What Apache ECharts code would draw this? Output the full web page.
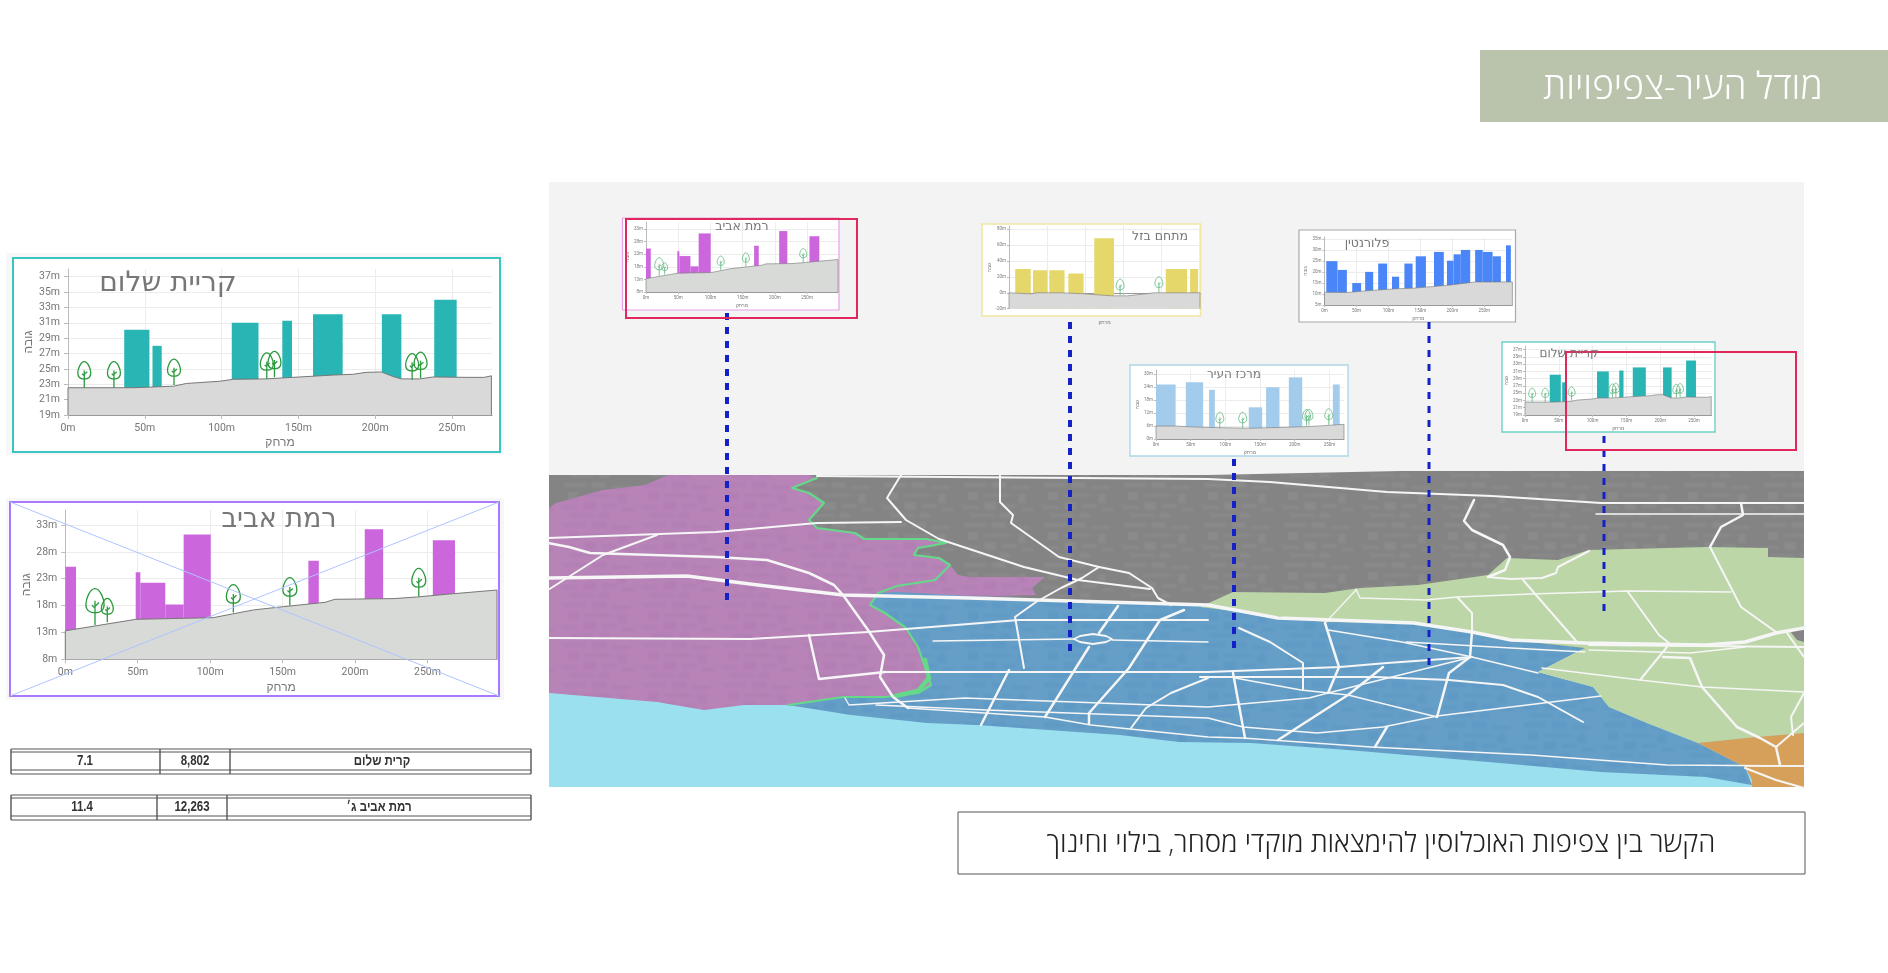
<!DOCTYPE html>
<html>
<head>
<meta charset="utf-8">
<title>מודל העיר-צפיפויות</title>
<style>
  html, body { margin: 0; padding: 0; background: #fff; }
  #main { width: 1888px; height: 973px; }
</style>
<script src="https://cdn.jsdelivr.net/npm/echarts@6/dist/echarts.min.js"></script>
</head>
<body>
<div id="main"></div>
<script>
// ---- profile charts: buildings are [from, to, top], terrain [dist, height], trees [dist, ground]
var kiryatTitle = 'קריית שלום'
var kiryatXTicks = [0, 50, 100, 150, 200, 250]
var kiryatYTicks = [19, 21, 23, 25, 27, 29, 31, 33, 35, 37]
var kiryatBuildings = [[36.6, 53, 30.1], [55, 61, 28], [106.6, 124, 31], [139.5, 145.8, 31.25], [159.5, 178.8, 32.1], [204.3, 217, 32.1], [238.4, 253, 34]]
var kiryatTerrain = [[0, 19], [0, 22.55], [42.7, 22.55], [68.7, 22.75], [77, 23.1], [99, 23.4], [107.7, 23.65], [129, 23.7], [151, 23.95], [172.7, 24.2], [185.7, 24.3], [194, 24.55], [204, 24.6], [211.7, 24], [217, 23.7], [229, 23.7], [237.7, 23.95], [259, 23.9], [271, 23.9], [275.6, 24.1], [275.6, 19]]
var kiryatTrees = [[10.6, 22.55], [29.9, 22.55], [69, 22.9], [129.4, 23.7], [134.4, 23.9], [224, 23.6], [229.5, 23.8]]

var ramatTitle = 'רמת אביב'
var ramatXTicks = [0, 50, 100, 150, 200, 250]
var ramatYTicks = [8, 13, 18, 23, 28, 33]
var ramatBuildings = [[0, 7.4, 25.25], [48.6, 51.8, 24.2], [51.8, 69, 22.27], [69, 81.7, 18.2], [81.7, 100.4, 31.26], [167.8, 175, 26.36], [206.7, 219.4, 32.2], [253.7, 269, 30.15]]
var ramatTerrain = [[0, 8], [0, 13.3], [48.6, 15.44], [102, 15.75], [130, 17.2], [150.6, 17.8], [179.3, 18.6], [186, 19.17], [226.5, 19.3], [242.6, 19.6], [263, 20.1], [298, 20.9], [298, 8]]
var ramatTrees = [[20.5, 14.4], [29, 14.9], [116, 16.7], [155, 18], [244, 19.7]]
var ramatTreeScale = [1.3, 0.85, 1, 1, 1]

var bazelTitle = 'מתחם בזל'
var bazelXTicks = [0, 50, 100, 150, 200, 250]
var bazelYTicks = [-20, 0, 20, 40, 60, 80]
var bazelBuildings = [[8.2, 28.6, 29.9], [31.6, 50.5, 28.2], [53, 73, 28.2], [78, 98, 24.4], [112, 138, 68.6], [206, 234, 29.9], [238, 248.5, 29.9]]
var bazelTerrain = [[0, -20], [0, 0], [28, -1.3], [38, 0], [69, 0], [99, -1.3], [135, -3.8], [156, -3.8], [191, 0], [251, 0], [251, -20]]
var bazelTrees = [[146, -3], [197, 0]]

var centerTitle = 'מרכז העיר'
var centerXTicks = [0, 50, 100, 150, 200, 250]
var centerYTicks = [0, 6, 12, 18, 24, 30]
var centerBuildings = [[0, 28.3, 25.3], [43, 68, 26.3], [76.5, 84.8, 22.8], [133.7, 153, 14.7], [158.7, 178, 24], [191.5, 210.8, 28.6], [255, 264.8, 25.3]]
var centerTerrain = [[0, 0], [0, 6], [28.3, 6], [68, 5.4], [135, 5], [186, 5.4], [225, 5.85], [271, 6.8], [271, 0]]
var centerTrees = [[92, 5], [125, 5], [217, 6.2], [220.5, 6.3], [249, 6.6]]

var florentinTitle = 'פלורנטין'
var florentinXTicks = [0, 50, 100, 150, 200, 250]
var florentinYTicks = [5, 10, 15, 20, 25, 30, 35]
var florentinBuildings = [[2.8, 20.3, 25], [20.3, 35, 21], [43.4, 57.3, 15], [63.6, 76.2, 20.1], [84, 98, 23.9], [105.6, 116.8, 17.9], [125, 137.8, 23.9], [142.7, 158.7, 27.2], [171.3, 186.7, 29.2], [191.6, 202, 25.2], [202, 213.3, 28.1], [213.3, 228, 30.1], [235.7, 247.6, 30.1], [247.6, 263, 29.2], [263, 276, 27.2], [284, 291.6, 32.2]]
var florentinTerrain = [[0, 5], [0, 10.85], [36, 10.7], [71, 11.6], [113, 12.4], [141, 12.7], [197, 14.1], [235.7, 15.5], [294, 15.5], [294, 5]]

// ---- table beside the profiles
var tableNames = ['קרית שלום', 'רמת אביב ג׳']
var tablePopulation = ['8,802', '12,263']
var tableDensity = ['7.1', '11.4']

// ---- map areas, in slide pixels
var seaArea = [[549, 680], [1804, 680], [1804, 787], [549, 787]]
var grayArea = [[549, 475], [817, 475], [1208, 475], [1400, 471], [1804, 471], [1804, 650], [1200, 650], [900, 690], [549, 690]]
var pinkArea = [[549, 693], [657, 702], [704, 710], [744, 705], [788, 705], [843, 697], [885, 697], [918, 693], [931, 685], [925, 667], [918, 647], [906, 628], [885, 613], [870, 605], [878, 593], [973, 597], [1036, 595], [1032, 588], [1045, 577], [969, 577], [958, 575], [950, 565], [939, 558], [914, 555], [918, 548], [946, 543], [927, 539], [864, 539], [855, 533], [817, 528], [809, 520], [824, 503], [809, 493], [792, 488], [817, 478], [809, 475], [668, 475], [645, 485], [603, 490], [556, 503], [549, 508]]
var blueArea = [[788, 705], [843, 697], [885, 697], [918, 693], [931, 685], [925, 667], [918, 647], [906, 628], [885, 613], [870, 605], [878, 593], [897, 592], [969, 596], [1208, 605], [1325, 622], [1426, 623], [1472, 632], [1511, 640], [1585, 648], [1538, 672], [1593, 687], [1609, 707], [1647, 723], [1698, 743], [1745, 767], [1752, 785], [1706, 777], [1601, 772], [1500, 763], [1348, 750], [1251, 743], [1179, 742], [1120, 735], [977, 725], [927, 723], [851, 715]]
var greenArea = [[1200, 607], [1233, 592], [1325, 593], [1360, 588], [1418, 585], [1488, 575], [1507, 558], [1558, 560], [1589, 550], [1706, 547], [1768, 548], [1768, 557], [1804, 558], [1804, 733], [1756, 737], [1698, 743], [1647, 723], [1609, 707], [1593, 687], [1538, 672], [1585, 648], [1511, 640], [1472, 632], [1426, 623], [1325, 622]]
var orangeArea = [[1698, 743], [1756, 737], [1804, 733], [1804, 787], [1752, 787], [1752, 780], [1745, 767]]
var grayPatch = [[1790, 631], [1804, 627], [1804, 642], [1797, 640]]
var greenEdge = [[788, 705], [843, 697], [885, 697], [918, 693], [931, 685], [925, 667], [918, 647], [906, 628], [885, 613], [870, 605], [878, 593], [897, 586], [935, 580], [950, 565], [939, 558], [914, 555], [918, 548], [946, 543], [927, 539], [864, 539], [855, 533], [817, 528], [809, 520], [824, 503], [809, 493], [792, 488], [817, 478]]
var greenEdgeWide = [[925, 660], [929, 678], [918, 691], [895, 696]]
var roundabout = [[1074, 639], [1080, 636], [1093, 634], [1106, 636], [1112, 639], [1106, 642], [1093, 644], [1080, 642], [1074, 639]]

var roadsThick = [
  [[548, 578], [687, 576], [758, 585], [843, 595], [969, 598], [1208, 605], [1278, 618], [1414, 623], [1472, 632], [1511, 640], [1585, 643], [1706, 645], [1745, 642], [1776, 633], [1804, 628]]
]
var roadsMedium = [
  [[809, 635], [819, 679], [885, 672]],
  [[1118, 606], [1099, 633]], [[1089, 647], [1045, 717]], [[1009, 670], [981, 725]],
  [[1184, 610], [1160, 620], [1129, 668], [1089, 713], [1089, 723]],
  [[1233, 673], [1245, 738]],
  [[1325, 623], [1339, 667], [1328, 693]],
  [[1383, 667], [1348, 695], [1278, 740]],
  [[1472, 632], [1470, 657], [1449, 673], [1437, 717]],
  [[1387, 727], [1375, 747]],
  [[1474, 500], [1464, 521], [1472, 530], [1503, 545], [1510, 557], [1505, 570], [1488, 577]],
  [[1663, 657], [1690, 658], [1702, 687], [1737, 727], [1760, 738], [1776, 747], [1780, 765]],
  [[1741, 503], [1743, 515], [1721, 527], [1710, 547]],
  [[548, 543], [569, 547], [590, 553], [716, 557], [767, 560], [809, 573], [834, 585], [843, 595], [868, 630], [884, 655], [880, 677], [893, 697], [908, 708]]
]
var roadsThin = [
  [[817, 476], [1208, 479], [1270, 482], [1387, 492], [1492, 496], [1601, 503], [1804, 503]],
  [[548, 538], [716, 532], [817, 523], [901, 522]],
  [[548, 590], [603, 555], [657, 535]],
  [[548, 638], [750, 639], [868, 632], [1019, 620], [1208, 620]],
  [[885, 672], [1208, 672], [1340, 667], [1387, 663], [1472, 657]],
  [[901, 475], [887, 498], [906, 520], [939, 539], [1024, 567], [1078, 580], [1150, 589]],
  [[1000, 475], [1000, 502], [1013, 515], [1011, 523], [1059, 557], [1099, 567], [1129, 573], [1152, 588], [1158, 598], [1171, 605]],
  [[1099, 567], [1082, 578], [1061, 588], [1036, 602], [1015, 617], [1024, 668]],
  [[1208, 678], [1171, 693], [1146, 708], [1131, 728]],
  [[1239, 628], [1270, 642], [1303, 663], [1303, 690]],
  [[1200, 677], [1375, 677], [1449, 680], [1503, 685], [1538, 697], [1583, 722]],
  [[1589, 645], [1804, 647]],
  [[1457, 597], [1472, 613], [1472, 632]],
  [[1523, 580], [1577, 642]],
  [[1628, 592], [1659, 635], [1669, 643]],
  [[1667, 647], [1640, 680]],
  [[1710, 547], [1741, 607], [1776, 632]],
  [[1787, 633], [1804, 657]],
  [[1776, 747], [1804, 723]],
  [[1793, 735], [1791, 717], [1804, 693]],
  [[1488, 577], [1511, 579], [1542, 578], [1556, 573], [1558, 567], [1589, 551]],
  [[1745, 768], [1776, 780], [1804, 788]]
]
var roadsHair = [
  [[933, 641], [1074, 639]], [[1112, 640], [1208, 642]],
  [[845, 698], [849, 705], [965, 698], [1208, 707], [1309, 698], [1328, 693], [1472, 657]],
  [[908, 708], [1045, 717], [1091, 725], [1208, 737], [1243, 738], [1371, 747], [1531, 755], [1667, 765], [1804, 766]],
  [[876, 705], [986, 710], [1208, 718], [1243, 727], [1317, 733], [1383, 727], [1437, 716], [1601, 696]],
  [[1235, 678], [1301, 690], [1348, 695], [1437, 717]],
  [[1328, 630], [1402, 642], [1472, 657], [1538, 673]],
  [[1406, 642], [1511, 648], [1585, 652]],
  [[1356, 590], [1325, 623]],
  [[1356, 589], [1360, 598], [1426, 600], [1457, 597], [1531, 594], [1628, 591], [1731, 592]],
  [[1542, 668], [1640, 680], [1702, 687], [1804, 692]],
  [[1589, 650], [1690, 653], [1745, 647]],
  [[1596, 514], [1804, 514]],
  [[1745, 766], [1804, 766]]
]
// dashed drop lines: [x, top, bottom]
var dropLines = [[727, 313, 604], [1070, 322, 654], [1234, 459, 654], [1429, 322, 665], [1604, 436, 611]]
// street block texture, one repeating tile: [x, y, w, h]
var blockTile = [[4, 3, 22, 4], [32, 2, 14, 6], [52, 6, 18, 3], [8, 12, 10, 8], [24, 14, 26, 3], [58, 14, 8, 9], [2, 26, 16, 3], [24, 22, 12, 8], [42, 24, 14, 4], [62, 28, 12, 3], [10, 34, 24, 3], [40, 33, 10, 5]]

var FONT = 'Liberation Sans'
var treePath = 'M10 1 C15 1 19 12 19 18 C19 24 15 27 10 27 C5 27 1 24 1 18 C1 12 5 1 10 1 Z M10 40 L10 14 M10 20 L14 16 M10 22 L7 19'

var grids = [], xAxes = [], yAxes = [], series = []

function makeTexture (color) {
  var c = document.createElement('canvas')
  c.width = 80
  c.height = 40
  var ctx = c.getContext('2d')
  ctx.filter = 'blur(1.2px)'
  ctx.fillStyle = color
  blockTile.forEach(function (b) {
    ctx.fillRect(b[0], b[1], b[2], b[3])
  })
  return c
}

// one profile chart: grid, two axes, then terrain / buildings / trees
function addProfile (d) {
  var g = grids.length
  grids.push({ left: d.left, top: d.top, width: d.right - d.left, height: d.bottom - d.top })
  xAxes.push({
    type: 'value', gridIndex: g, min: 0, max: d.xMax,
    name: 'מרחק', nameLocation: 'middle', nameGap: d.nameGapX,
    nameTextStyle: { fontSize: d.nameSize, color: '#777', fontFamily: FONT },
    axisLine: { show: true, lineStyle: { color: '#999' } },
    axisTick: { show: true, length: d.tick, customValues: d.xTicks, lineStyle: { color: '#bbb' } },
    axisLabel: { show: d.showXLabels !== false, customValues: d.xTicks, fontSize: d.labelSize, color: '#777', fontFamily: 'Roboto', margin: d.margin, formatter: '{value}m' },
    splitLine: { show: true, lineStyle: { color: '#ececec' } }
  })
  yAxes.push({
    type: 'value', gridIndex: g, min: d.yMin, max: d.yMax,
    name: 'גובה', nameLocation: 'middle', nameGap: d.nameGapY,
    nameTextStyle: { fontSize: d.nameSize, color: '#777', fontFamily: FONT },
    axisLine: { show: true, lineStyle: { color: '#bbb' } },
    axisTick: { show: true, length: d.tick, customValues: d.yTicks, lineStyle: { color: '#bbb' } },
    axisLabel: { customValues: d.yTicks, fontSize: d.labelSize, color: '#777', fontFamily: 'Roboto', margin: d.margin, formatter: '{value}m' },
    splitLine: { show: true, lineStyle: { color: '#ececec' } }
  })
  series.push({
    type: 'custom', xAxisIndex: g, yAxisIndex: g, z: 3, silent: true, clip: true,
    data: d.buildings,
    renderItem: function (params, api) {
      var a = api.coord([api.value(0), api.value(2)])
      var b = api.coord([api.value(1), d.yMin])
      return { type: 'rect', shape: { x: a[0], y: a[1], width: b[0] - a[0], height: b[1] - a[1] }, style: { fill: d.color } }
    }
  })
  series.push({
    type: 'line', xAxisIndex: g, yAxisIndex: g, z: 4, silent: true, symbol: 'none', clip: false,
    data: d.terrain,
    lineStyle: { color: '#777', width: d.terrainWidth },
    areaStyle: { color: d.terrainColor, opacity: 1, origin: 'start' }
  })
  if (d.trees) {
    series.push({
      type: 'custom', xAxisIndex: g, yAxisIndex: g, z: 5, silent: true,
      data: d.trees,
      renderItem: function (params, api) {
        var p = api.coord([api.value(0), api.value(1)])
        var k = d.treeScale ? d.treeScale[params.dataIndex] : 1
        var w = d.treeW * k, h = d.treeH * k
        return {
          type: 'path',
          shape: { pathData: treePath, layout: 'cover', x: p[0] - w / 2, y: p[1] - h, width: w, height: h },
          style: { fill: 'none', stroke: d.treeColor, lineWidth: d.treeLine }
        }
      }
    })
  }
}

var big = { labelSize: 10.5, nameSize: 12, margin: 8, tick: 4, terrainWidth: 1, treeLine: 1.3, treeColor: '#2a9a3c' }
var mini = { labelSize: 4.5, nameSize: 5, margin: 3, tick: 2, terrainWidth: 0.6, treeLine: 0.8, treeColor: '#5db67c', treeW: 8, treeH: 16, nameGapX: 11, nameGapY: 10 }

function profile (base, own) {
  addProfile(Object.assign({}, base, own))
}

var kiryatData = { xMax: 276, yMin: 19, yMax: 38, xTicks: kiryatXTicks, yTicks: kiryatYTicks, buildings: kiryatBuildings, terrain: kiryatTerrain, trees: kiryatTrees, color: '#2ab5b5', terrainColor: '#d9d9d9' }
var ramatData = { xMax: 298, yMin: 8, yMax: 35.8, xTicks: ramatXTicks, yTicks: ramatYTicks, buildings: ramatBuildings, terrain: ramatTerrain, trees: ramatTrees, treeScale: ramatTreeScale, color: '#cc66dd', terrainColor: '#d8dad8' }

// map first, on a hidden axis pair that spans the slide
var pg = grids.length
grids.push({ left: 0, top: 0, right: 0, bottom: 0 })
xAxes.push({ type: 'value', gridIndex: pg, min: 0, max: 1888, show: false })
yAxes.push({ type: 'value', gridIndex: pg, min: 0, max: 973, inverse: true, show: false })

function addArea (pts, color) {
  series.push({
    type: 'custom', xAxisIndex: pg, yAxisIndex: pg, z: 1, silent: true, data: [0],
    renderItem: function (params, api) {
      return { type: 'polygon', shape: { points: pts.map(function (p) { return api.coord(p) }) }, style: { fill: color } }
    }
  })
}
function addRoads (list, width, color) {
  list.forEach(function (pts) {
    series.push({
      type: 'line', xAxisIndex: pg, yAxisIndex: pg, z: 2, silent: true, symbol: 'none', data: pts,
      lineStyle: { color: color || '#f6f6f6', width: width, cap: 'round', join: 'round' }
    })
  })
}
addArea(seaArea, '#9be0ef')
addArea(grayArea, '#848484')
addArea(grayArea, { image: makeTexture('rgba(255,255,255,0.06)'), repeat: 'repeat' })
addArea(pinkArea, '#b884b8')
addArea(pinkArea, { image: makeTexture('rgba(120,60,130,0.08)'), repeat: 'repeat' })
addArea(blueArea, '#659fc8')
addArea(blueArea, { image: makeTexture('rgba(30,90,160,0.08)'), repeat: 'repeat' })
addArea(greenArea, '#bcd6a8')
addArea(orangeArea, '#d6a05a')
addArea(grayPatch, '#848484')
addRoads([greenEdge], 2.2, '#66d88a')
addRoads([greenEdgeWide], 4.5, '#66d88a')
addRoads(roadsThick, 3.5)
addRoads(roadsMedium, 2.5)
addRoads(roadsThin, 2)
addRoads(roadsHair, 1.3)
addRoads([roundabout], 1.8)
series.push({
  type: 'custom', xAxisIndex: pg, yAxisIndex: pg, z: 6, silent: true, data: dropLines,
  renderItem: function (params, api) {
    var a = api.coord([api.value(0), api.value(1)])
    var b = api.coord([api.value(0), api.value(2)])
    return { type: 'line', shape: { x1: a[0], y1: a[1], x2: b[0], y2: b[1] }, style: { stroke: '#1420c8', lineWidth: params.dataIndex > 2 ? 3 : 4, lineDash: [7, 7] } }
  }
})

// the two large profiles
profile(Object.assign({}, big, kiryatData), { left: 68, right: 492, top: 269, bottom: 415, treeW: 13, treeH: 26, nameGapX: 22, nameGapY: 33 })
profile(Object.assign({}, big, ramatData), { left: 65.3, right: 497, top: 510, bottom: 659.3, treeW: 14, treeH: 28, nameGapX: 22, nameGapY: 33 })

// the five small copies above the map
profile(Object.assign({}, mini, ramatData), { left: 646, right: 838, top: 222, bottom: 292, treeW: 7, treeH: 14 })
profile(Object.assign({}, mini, { xMax: 251, yMin: -20, yMax: 84, xTicks: bazelXTicks, yTicks: bazelYTicks, buildings: bazelBuildings, terrain: bazelTerrain, trees: bazelTrees, color: '#e5d76a', terrainColor: '#d9d9d9', showXLabels: false }), { left: 1009, right: 1200, top: 226, bottom: 308.7 })
profile(Object.assign({}, mini, { xMax: 271, yMin: 0, yMax: 32, xTicks: centerXTicks, yTicks: centerYTicks, buildings: centerBuildings, terrain: centerTerrain, trees: centerTrees, color: '#a3ccec', terrainColor: '#d9d9d9' }), { left: 1156, right: 1344, top: 370, bottom: 439 })
profile(Object.assign({}, mini, { xMax: 294, yMin: 5, yMax: 36, xTicks: florentinXTicks, yTicks: florentinYTicks, buildings: florentinBuildings, terrain: florentinTerrain, color: '#4a86f8', terrainColor: '#d9d9d9' }), { left: 1324.5, right: 1512.4, top: 237, bottom: 305 })
profile(Object.assign({}, mini, kiryatData), { left: 1525, right: 1711.5, top: 346, bottom: 415, treeW: 7, treeH: 14 })

function frame (x0, y0, x1, y1, color, width, fill, z) {
  return { type: 'rect', z: z, silent: true, shape: { x: x0, y: y0, width: x1 - x0, height: y1 - y0 }, style: { fill: fill || 'none', stroke: color, lineWidth: width } }
}
function label (text, x, y, size, color, weight, family, squeeze) {
  return { type: 'text', z: 12, silent: true, x: x, y: y, scaleX: squeeze || 1, style: { text: text, fill: color, fontSize: size, fontWeight: weight || 'normal', fontFamily: family || FONT, textAlign: 'center', textVerticalAlign: 'middle' } }
}
function hline (x0, x1, y) {
  return { type: 'line', z: 12, silent: true, shape: { x1: x0, y1: y, x2: x1, y2: y }, style: { stroke: '#555', lineWidth: 1 } }
}
function vline (x, y0, y1) {
  return { type: 'line', z: 12, silent: true, shape: { x1: x, y1: y0, x2: x, y2: y1 }, style: { stroke: '#555', lineWidth: 1.4 } }
}

var graphics = [
  // slide furniture
  frame(1480, 50, 1888, 122, 'none', 0, '#bac3ab', 0),
  label('מודל העיר-צפיפויות', 1683, 88, 37, '#fff', 300, 'Open Sans'),
  frame(549, 182, 1804, 787, 'none', 0, '#f3f3f3', -1),
  frame(958, 812, 1805, 874, '#555', 1, '#fff', 0),
  label('הקשר בין צפיפות האוכלוסין להימצאות מוקדי מסחר, בילוי וחינוך', 1381, 844, 27.5, '#222', 300, 'Open Sans'),

  // big chart frames
  frame(6, 253, 504, 455, 'none', 0, '#f7f7f7', -1),
  frame(13, 258, 500, 452, '#3cc4c0', 2, '#fff', 0),
  frame(6, 498, 504, 700, 'none', 0, '#f7f7f7', -1),
  frame(10, 502, 499, 696, '#a878ff', 2, '#fff', 0),
  label(kiryatTitle, 168, 284, 28, '#777', 'normal', 'DejaVu Sans'),
  label(ramatTitle, 279, 520, 27, '#777', 'normal', 'DejaVu Sans'),
  { type: 'line', z: 11, silent: true, shape: { x1: 10, y1: 502, x2: 499, y2: 696 }, style: { stroke: '#b0c4ff', lineWidth: 1 } },
  { type: 'line', z: 11, silent: true, shape: { x1: 10, y1: 696, x2: 499, y2: 502 }, style: { stroke: '#b0c4ff', lineWidth: 1 } },

  // small chart frames
  frame(622.5, 218, 839, 310, '#e8a0e8', 1.2, '#fff', 0),
  frame(982, 224, 1200.6, 316, '#f0e8a0', 1.6, '#fff', 0),
  frame(1130, 365, 1348, 456, '#b0d8e8', 1.4, '#fff', 0),
  frame(1299, 230, 1515.5, 322, '#aaa', 1.2, '#fff', 0),
  frame(1502, 342, 1715, 432, '#70d0c8', 1.4, '#fff', 0),
  frame(626, 219, 857, 318, '#e0285c', 2, null, 11),
  frame(1566, 352, 1796, 450, '#e0285c', 2, null, 11),
  label(ramatTitle, 742, 227, 12.5, '#777', 'normal', 'DejaVu Sans'),
  label(bazelTitle, 1160, 237, 12.5, '#777', 'normal', 'DejaVu Sans'),
  label(centerTitle, 1234, 375, 12, '#777', 'normal', 'DejaVu Sans'),
  label(florentinTitle, 1367, 244, 12.5, '#777', 'normal', 'DejaVu Sans'),
  label(kiryatTitle, 1569, 354, 12, '#777', 'normal', 'DejaVu Sans')
]

// the two table strips
var tableTops = [749, 795]
var tableCols = [[160, 230], [157, 227]]
tableNames.forEach(function (name, i) {
  var t = tableTops[i]
  graphics.push(hline(11, 531, t), hline(11, 531, t + 3), hline(11, 531, t + 21), hline(11, 531, t + 25))
  graphics.push(vline(11, t, t + 25), vline(tableCols[i][0], t, t + 25), vline(tableCols[i][1], t, t + 25), vline(531, t, t + 25))
  graphics.push(label(tableDensity[i], tableCols[i][0] - 75, t + 12.5, 14, '#333', 'bold', FONT, 0.82))
  graphics.push(label(tablePopulation[i], tableCols[i][0] + 35, t + 12.5, 14, '#333', 'bold', FONT, 0.82))
  graphics.push(label(name, tableCols[i][1] + 152, t + 12.5, 14, '#333', 'bold', FONT, 0.82))
})

var myChart = echarts.init(document.getElementById('main'), null, { renderer: 'canvas' })
myChart.setOption({
  animation: false,
  backgroundColor: '#fff',
  grid: grids,
  xAxis: xAxes,
  yAxis: yAxes,
  series: series,
  graphic: { elements: graphics }
})
window.addEventListener('resize', function () {
  myChart.resize()
})
</script>
</body>
</html>
